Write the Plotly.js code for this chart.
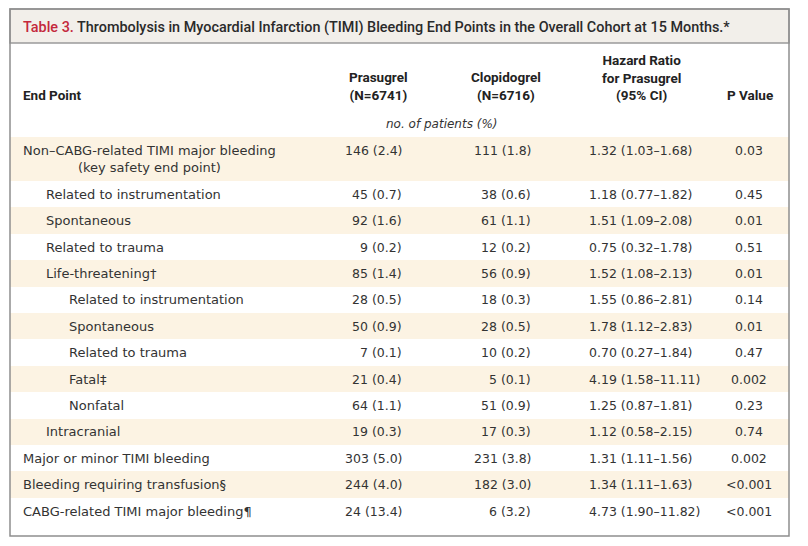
<!DOCTYPE html>
<html>
<head>
<meta charset="utf-8">
<script src="https://cdn.plot.ly/plotly-3.0.1.min.js"></script>
<style>
  html, body { margin: 0; padding: 0; background: #fff; }
  #chart { width: 808px; height: 546px; }
</style>
</head>
<body>
<div id="chart"></div>
<script>
// ---- 表格資料 ----
const endPoints = [
  'Non–CABG-related TIMI major bleeding<br>(key safety end point)',
  'Related to instrumentation',
  'Spontaneous',
  'Related to trauma',
  'Life-threatening†',
  'Related to instrumentation',
  'Spontaneous',
  'Related to trauma',
  'Fatal‡',
  'Nonfatal',
  'Intracranial',
  'Major or minor TIMI bleeding',
  'Bleeding requiring transfusion§',
  'CABG-related TIMI major bleeding¶'
];
const indentLevel = [0, 1, 1, 1, 1, 2, 2, 2, 2, 2, 1, 0, 0, 0];
const prasugrel = ['146 (2.4)', '45 (0.7)', '92 (1.6)', '9 (0.2)', '85 (1.4)', '28 (0.5)', '50 (0.9)',
                   '7 (0.1)', '21 (0.4)', '64 (1.1)', '19 (0.3)', '303 (5.0)', '244 (4.0)', '24 (13.4)'];
const clopidogrel = ['111 (1.8)', '38 (0.6)', '61 (1.1)', '12 (0.2)', '56 (0.9)', '18 (0.3)', '28 (0.5)',
                     '10 (0.2)', '5 (0.1)', '51 (0.9)', '17 (0.3)', '231 (3.8)', '182 (3.0)', '6 (3.2)'];
const hazardRatio = ['1.32 (1.03–1.68)', '1.18 (0.77–1.82)', '1.51 (1.09–2.08)', '0.75 (0.32–1.78)',
                     '1.52 (1.08–2.13)', '1.55 (0.86–2.81)', '1.78 (1.12–2.83)', '0.70 (0.27–1.84)',
                     '4.19 (1.58–11.11)', '1.25 (0.87–1.81)', '1.12 (0.58–2.15)', '1.31 (1.11–1.56)',
                     '1.34 (1.11–1.63)', '4.73 (1.90–11.82)'];
const pValue = ['0.03', '0.45', '0.01', '0.51', '0.01', '0.14', '0.01', '0.47', '0.002', '0.23',
                '0.74', '0.002', '<0.001', '<0.001'];

const tableTitle = '<span style="color:#c4283c">Table 3.</span> Thrombolysis in Myocardial Infarction (TIMI) Bleeding End Points in the Overall Cohort at 15 Months.*';
const headers = ['End Point', 'Prasugrel<br>(N=6741)', 'Clopidogrel<br>(N=6716)',
                 'Hazard Ratio<br>for Prasugrel<br>(95% CI)', 'P Value'];
const unitLabel = 'no. of patients (%)';

// ---- 版面設定 ----
const W = 808, H = 546;
const boxL = 10, boxR = 789, boxT = 9, boxB = 536, titleB = 43;
const bodyTop = 137;
const rowH = 26.4, lineH = 17.6;
const indentX = [22, 45, 68];
const colX = { pras: 403, clop: 532, hr: 588, p: 749 };
const headerX = [22, 378, 506, 641, 750];
const headerBottom = 104;

const labelFont = { family: 'DejaVu Sans, sans-serif', size: 13, color: '#333333' };
const numFont = { family: 'DejaVu Sans, sans-serif', size: 12.5, color: '#333333' };
const headFont = { family: 'Roboto, sans-serif', size: 13.5, color: '#222222', weight: 700 };
const tanColor = '#fcf3e3';

// 每列高度依行數計算
const rowTop = [], rowHeight = [];
let yCur = bodyTop;
endPoints.forEach(t => {
  const lines = t.split('<br>').length;
  const h = rowH + (lines - 1) * lineH;
  rowTop.push(yCur);
  rowHeight.push(h);
  yCur += h;
});
const rowMid = rowTop.map((t, i) => t + rowHeight[i] / 2);
const firstLine = rowTop.map(t => t + rowH / 2);

// 背景條紋
const bands = {
  type: 'bar',
  orientation: 'h',
  y: rowMid,
  x: rowMid.map(() => boxR - boxL),
  base: boxL,
  width: rowHeight,
  marker: { color: rowMid.map((_, i) => i % 2 === 0 ? tanColor : '#ffffff'), line: { width: 0 } },
  hoverinfo: 'skip',
  showlegend: false
};

const annotations = [];
function addText(x, y, text, opts) {
  annotations.push(Object.assign({
    x: x, y: y, xref: 'x', yref: 'y', text: text, showarrow: false,
    font: numFont, xanchor: 'left', yanchor: 'middle', borderpad: 0
  }, opts || {}));
}

// 標題
addText(22, 27, tableTitle, {
  font: { family: 'Roboto, sans-serif', size: 14.4, color: '#2a2a2a', weight: 500 }
});

// 表頭
headers.forEach((h, i) => {
  addText(headerX[i], headerBottom, h, {
    font: headFont, xanchor: i === 0 ? 'left' : 'center', yanchor: 'bottom', align: 'center'
  });
});
addText(442, 124, '<i>' + unitLabel + '</i>', {
  font: Object.assign({}, numFont, { size: 12 }), xanchor: 'center'
});

// 內容
endPoints.forEach((t, i) => {
  addText(indentX[indentLevel[i]], rowMid[i], t, { align: 'center', font: labelFont });
  addText(colX.pras, firstLine[i], prasugrel[i], { xanchor: 'right' });
  addText(colX.clop, firstLine[i], clopidogrel[i], { xanchor: 'right' });
  addText(colX.hr, firstLine[i], hazardRatio[i], { xanchor: 'left' });
  addText(colX.p, firstLine[i], pValue[i], { xanchor: 'center' });
});

const shapes = [
  { type: 'rect', xref: 'x', yref: 'y', x0: boxL, x1: boxR, y0: boxT, y1: titleB,
    fillcolor: '#f2efea', line: { color: '#9a9a9a', width: 1.5 }, layer: 'below' },
  { type: 'rect', xref: 'x', yref: 'y', x0: boxL, x1: boxR, y0: boxT, y1: boxB,
    fillcolor: 'rgba(0,0,0,0)', line: { color: '#8e8e8e', width: 1.5 }, layer: 'above' }
];

const layout = {
  width: W, height: H,
  margin: { l: 0, r: 0, t: 0, b: 0 },
  paper_bgcolor: '#ffffff', plot_bgcolor: '#ffffff',
  xaxis: { range: [0, W], visible: false, fixedrange: true },
  yaxis: { range: [H, 0], visible: false, fixedrange: true },
  bargap: 0,
  showlegend: false,
  shapes: shapes,
  annotations: annotations
};

Plotly.newPlot('chart', [bands], layout, { staticPlot: true, displayModeBar: false });
</script>
</body>
</html>
